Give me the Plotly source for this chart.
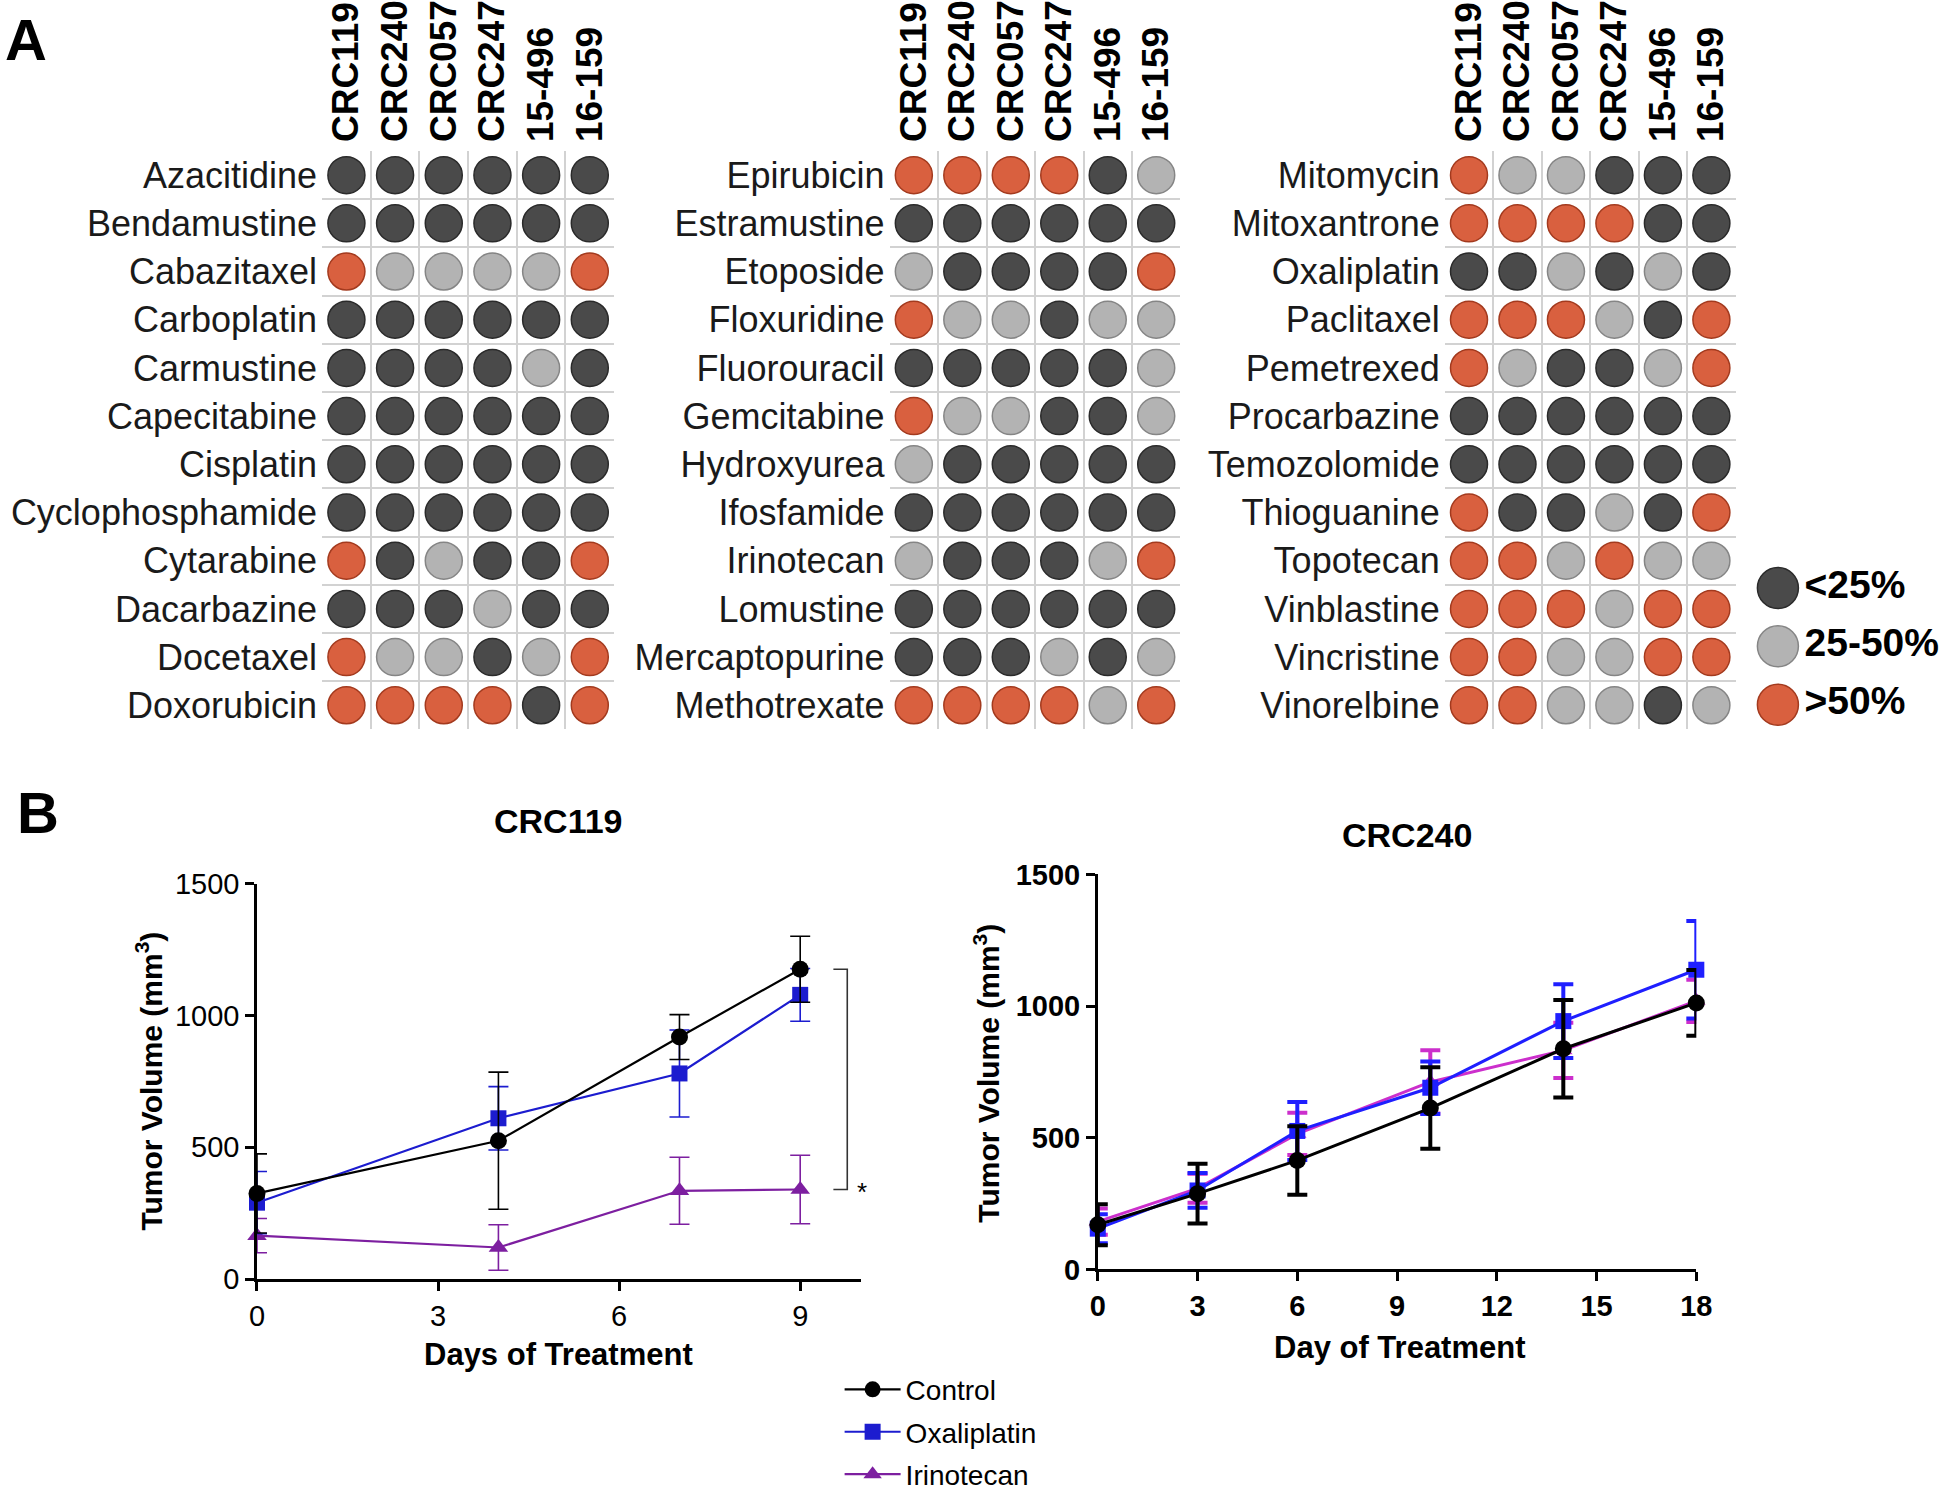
import plotly.graph_objects as go

W, H = 1946, 1500

# ---------------- Panel A data ----------------
cell_lines = ["CRC119", "CRC240", "CRC057", "CRC247", "15-496", "16-159"]

# 0 = <25%, 1 = 25-50%, 2 = >50%
drugs_1 = ["Azacitidine", "Bendamustine", "Cabazitaxel", "Carboplatin", "Carmustine",
           "Capecitabine", "Cisplatin", "Cyclophosphamide", "Cytarabine", "Dacarbazine",
           "Docetaxel", "Doxorubicin"]
resp_1 = [[0, 0, 0, 0, 0, 0],
          [0, 0, 0, 0, 0, 0],
          [2, 1, 1, 1, 1, 2],
          [0, 0, 0, 0, 0, 0],
          [0, 0, 0, 0, 1, 0],
          [0, 0, 0, 0, 0, 0],
          [0, 0, 0, 0, 0, 0],
          [0, 0, 0, 0, 0, 0],
          [2, 0, 1, 0, 0, 2],
          [0, 0, 0, 1, 0, 0],
          [2, 1, 1, 0, 1, 2],
          [2, 2, 2, 2, 0, 2]]

drugs_2 = ["Epirubicin", "Estramustine", "Etoposide", "Floxuridine", "Fluorouracil",
           "Gemcitabine", "Hydroxyurea", "Ifosfamide", "Irinotecan", "Lomustine",
           "Mercaptopurine", "Methotrexate"]
resp_2 = [[2, 2, 2, 2, 0, 1],
          [0, 0, 0, 0, 0, 0],
          [1, 0, 0, 0, 0, 2],
          [2, 1, 1, 0, 1, 1],
          [0, 0, 0, 0, 0, 1],
          [2, 1, 1, 0, 0, 1],
          [1, 0, 0, 0, 0, 0],
          [0, 0, 0, 0, 0, 0],
          [1, 0, 0, 0, 1, 2],
          [0, 0, 0, 0, 0, 0],
          [0, 0, 0, 1, 0, 1],
          [2, 2, 2, 2, 1, 2]]

drugs_3 = ["Mitomycin", "Mitoxantrone", "Oxaliplatin", "Paclitaxel", "Pemetrexed",
           "Procarbazine", "Temozolomide", "Thioguanine", "Topotecan", "Vinblastine",
           "Vincristine", "Vinorelbine"]
resp_3 = [[2, 1, 1, 0, 0, 0],
          [2, 2, 2, 2, 0, 0],
          [0, 0, 1, 0, 1, 0],
          [2, 2, 2, 1, 0, 2],
          [2, 1, 0, 0, 1, 2],
          [0, 0, 0, 0, 0, 0],
          [0, 0, 0, 0, 0, 0],
          [2, 0, 0, 1, 0, 2],
          [2, 2, 1, 2, 1, 1],
          [2, 2, 2, 1, 2, 2],
          [2, 2, 1, 1, 2, 2],
          [2, 2, 1, 1, 0, 1]]

levels = ["<25%", "25-50%", ">50%"]
level_fill = ["#4a4a4a", "#b3b3b3", "#d9603f"]
level_edge = ["#2a2a2a", "#858585", "#a33a1e"]

# ---------------- Panel B data ----------------
days_119 = [0, 4, 7, 9]
ctrl_119 = [325, 525, 918, 1175]
ctrl_119_err = [150, 260, 85, 125]
oxa_119 = [290, 610, 780, 1078]
oxa_119_err = [118, 120, 165, 100]
iri_119 = [165, 120, 335, 340]
iri_119_err = [65, 86, 127, 130]

days_240 = [0, 3, 6, 10, 14, 18]
ctrl_240 = [170, 288, 414, 613, 838, 1012]
ctrl_240_err = [78, 113, 130, 155, 185, 125]
oxa_240 = [155, 300, 526, 690, 943, 1138]
oxa_240_err = [55, 66, 110, 100, 140, 185]
iri_240 = [182, 308, 515, 712, 832, 1020]
iri_240_err = [50, 55, 80, 120, 105, 80]

FONT = "Liberation Sans, Arial, sans-serif"
NARROW = "Liberation Sans Narrow, Liberation Sans, Arial, sans-serif"

fig = go.Figure()

# ---------------- Panel A: dot grids ----------------
grids = [(drugs_1, resp_1, "x", "y"), (drugs_2, resp_2, "x2", "y2"), (drugs_3, resp_3, "x3", "y3")]
for drugs, resp, xa, ya in grids:
    for k in range(3):
        xs, ys = [], []
        for r, row in enumerate(resp):
            for c, v in enumerate(row):
                if v == k:
                    xs.append(c)
                    ys.append(r)
        fig.add_trace(go.Scatter(
            x=xs, y=ys, xaxis=xa, yaxis=ya, mode="markers", showlegend=False,
            marker=dict(size=37, color=level_fill[k], line=dict(color=level_edge[k], width=1.5)),
            cliponaxis=False, hoverinfo="skip"))

# key for the dot colours
fig.add_trace(go.Scatter(
    x=[0.125] * len(levels), y=list(range(len(levels))), xaxis="x4", yaxis="y4",
    mode="markers+text", text=levels, textposition="middle right",
    textfont=dict(family=FONT, size=39, color="black", weight="bold"),
    marker=dict(size=41, color=level_fill, line=dict(color=level_edge, width=1.5)),
    showlegend=False, cliponaxis=False, hoverinfo="skip"))

# ---------------- Panel B: growth curves ----------------
def curve(x, y, err, name, color, symbol, size, xa, ya, lw, ew, show, rank):
    return go.Scatter(
        x=x, y=y, name=name, xaxis=xa, yaxis=ya, mode="lines+markers",
        line=dict(color=color, width=lw),
        marker=dict(symbol=symbol, size=size, color=color),
        error_y=dict(type="data", array=err, color=color, thickness=ew, width=10),
        showlegend=show, legendrank=rank, legendgroup=name, cliponaxis=False)

fig.add_trace(curve(days_119, iri_119, iri_119_err, "Irinotecan", "#7d1fa0", "triangle-up", 17, "x5", "y5", 2.2, 1.6, True, 3))
fig.add_trace(curve(days_119, oxa_119, oxa_119_err, "Oxaliplatin", "#1c1ccf", "square", 16, "x5", "y5", 2.2, 1.6, True, 2))
fig.add_trace(curve(days_119, ctrl_119, ctrl_119_err, "Control", "black", "circle", 17, "x5", "y5", 2.2, 1.6, True, 1))

fig.add_trace(curve(days_240, iri_240, iri_240_err, "Irinotecan", "#cc2fcc", "triangle-up", 16, "x6", "y6", 3, 4, False, 3))
fig.add_trace(curve(days_240, oxa_240, oxa_240_err, "Oxaliplatin", "#1f1fff", "square", 16, "x6", "y6", 3, 4, False, 2))
fig.add_trace(curve(days_240, ctrl_240, ctrl_240_err, "Control", "black", "circle", 17, "x6", "y6", 3, 4, False, 1))

# significance bracket (Control vs Irinotecan at last day)
x5_range = [0, 10]
top, bot = ctrl_119[-1], iri_119[-1]
bx0, bx1 = days_119[-1] + 0.55, days_119[-1] + 0.78
fig.add_trace(go.Scatter(
    x=[bx0, bx1, bx1, bx0], y=[top, top, bot, bot], xaxis="x5", yaxis="y5",
    mode="lines", line=dict(color="#333333", width=1.6), showlegend=False, hoverinfo="skip"))

# ---------------- Layout ----------------
def px_x(v):
    return v / W

def px_y(v):
    return 1 - v / H

grid_y_dom = [px_y(735.4), px_y(136.7)]
grid_x_doms = [[px_x(318.0), px_x(613.7)], [px_x(892.6), px_x(1187.1)], [px_x(1454.7), px_x(1749.2)]]

layout = dict(
    width=W, height=H, paper_bgcolor="white", plot_bgcolor="white",
    margin=dict(l=0, r=0, t=0, b=0),
    font=dict(family=FONT, color="black"),
    legend=dict(x=px_x(842), y=px_y(1393), xanchor="left", yanchor="top",
                font=dict(family=FONT, size=28, color="black"),
                bgcolor="rgba(0,0,0,0)", tracegroupgap=3, itemwidth=56),
)

for i, (drugs, _, xa, ya) in enumerate(grids):
    xk = "xaxis" if i == 0 else f"xaxis{i + 1}"
    yk = "yaxis" if i == 0 else f"yaxis{i + 1}"
    layout[xk] = dict(
        domain=grid_x_doms[i], anchor=ya, range=[-0.5, 5.5], side="top",
        tickmode="array", tickvals=list(range(len(cell_lines))), ticktext=cell_lines,
        tickangle=-90, tickfont=dict(family=FONT, size=37, color="black", weight="bold"),
        ticks="", ticklabelstandoff=8, showgrid=False, zeroline=False, showline=False,
        minor=dict(tickmode="array", tickvals=[c + 0.5 for c in range(len(cell_lines) - 1)],
                   showgrid=True, gridcolor="#d2d2d2", gridwidth=2, ticks=""),
        fixedrange=True)
    layout[yk] = dict(
        domain=grid_y_dom, anchor=xa, range=[len(drugs) - 0.5, -0.5],
        tickmode="array", tickvals=list(range(len(drugs))), ticktext=drugs,
        tickfont=dict(family=FONT, size=36, color="#1a1a1a"),
        ticks="", ticklabelstandoff=4, showgrid=False, zeroline=False, showline=False,
        minor=dict(tickmode="array", tickvals=[r + 0.5 for r in range(len(drugs) - 1)],
                   showgrid=True, gridcolor="#d2d2d2", gridwidth=2, ticks=""),
        fixedrange=True)

layout["xaxis4"] = dict(domain=[px_x(1770), 1.0], anchor="y4", range=[0, 1], visible=False, fixedrange=True)
layout["yaxis4"] = dict(domain=[px_y(740.0), px_y(558.8)], anchor="x4", range=[2.5, -0.5], visible=False, fixedrange=True)

axis_common = dict(showline=True, linecolor="black", linewidth=2.5, ticks="outside", ticklen=9,
                   tickwidth=2.5, tickcolor="black", showgrid=False, zeroline=False, fixedrange=True)

layout["xaxis5"] = dict(axis_common, domain=[px_x(252.1), px_x(863.2)], anchor="y5", range=x5_range,
                        tickmode="array", tickvals=[0, 3, 6, 9],
                        tickfont=dict(family=NARROW, size=29, color="black"))
layout["yaxis5"] = dict(axis_common, domain=[px_y(1304.5), px_y(895.0)], anchor="x5", range=[0, 1500],
                        tickmode="array", tickvals=[0, 500, 1000, 1500],
                        tickfont=dict(family=NARROW, size=29, color="black"))
layout["xaxis6"] = dict(axis_common, domain=[px_x(1103.4), px_x(1709.4)], anchor="y6", range=[0, 18],
                        tickmode="array", tickvals=[0, 3, 6, 9, 12, 15, 18],
                        tickfont=dict(family=NARROW, size=29, color="black", weight="bold"))
layout["yaxis6"] = dict(axis_common, domain=[px_y(1294.5), px_y(885.5)], anchor="x6", range=[0, 1500],
                        tickmode="array", tickvals=[0, 500, 1000, 1500],
                        tickfont=dict(family=NARROW, size=29, color="black", weight="bold"))

def note(text, x, y, size, bold=True, angle=0, xref="paper", yref="paper", **kw):
    return dict(text=text, x=x, y=y, xref=xref, yref=yref, showarrow=False, textangle=angle,
                xanchor="center", yanchor="middle",
                font=dict(family=FONT, size=size, color="black", weight="bold" if bold else "normal"), **kw)

layout["annotations"] = [
    note("A", px_x(18), px_y(21), 58),
    note("B", px_x(30), px_y(821), 58),
    note("CRC119", px_x(557.7), px_y(830.5), 34),
    note("CRC240", px_x(1416.4), px_y(844.5), 34),
    note("Days of Treatment", px_x(557.7), px_y(1383), 31),
    note("Day of Treatment", px_x(1408.9), px_y(1375), 31),
    note("Tumor Volume (mm<sup>3</sup>)", px_x(142.7), px_y(1099), 30, angle=-90),
    note("Tumor Volume (mm<sup>3</sup>)", px_x(991.5), px_y(1091.5), 30, angle=-90),
    # significance star, placed just right of the bracket (domain-relative x)
    note("*", (bx1 + 0.25 - x5_range[0]) / (x5_range[1] - x5_range[0]), bot, 26, bold=False,
         xref="x5 domain", yref="y5", yshift=-3),
]

fig.update_layout(**layout)
fig.write_html("out.html", config={"displayModeBar": False},
               post_script="document.body.style.margin='0';document.body.style.overflow='hidden';")
